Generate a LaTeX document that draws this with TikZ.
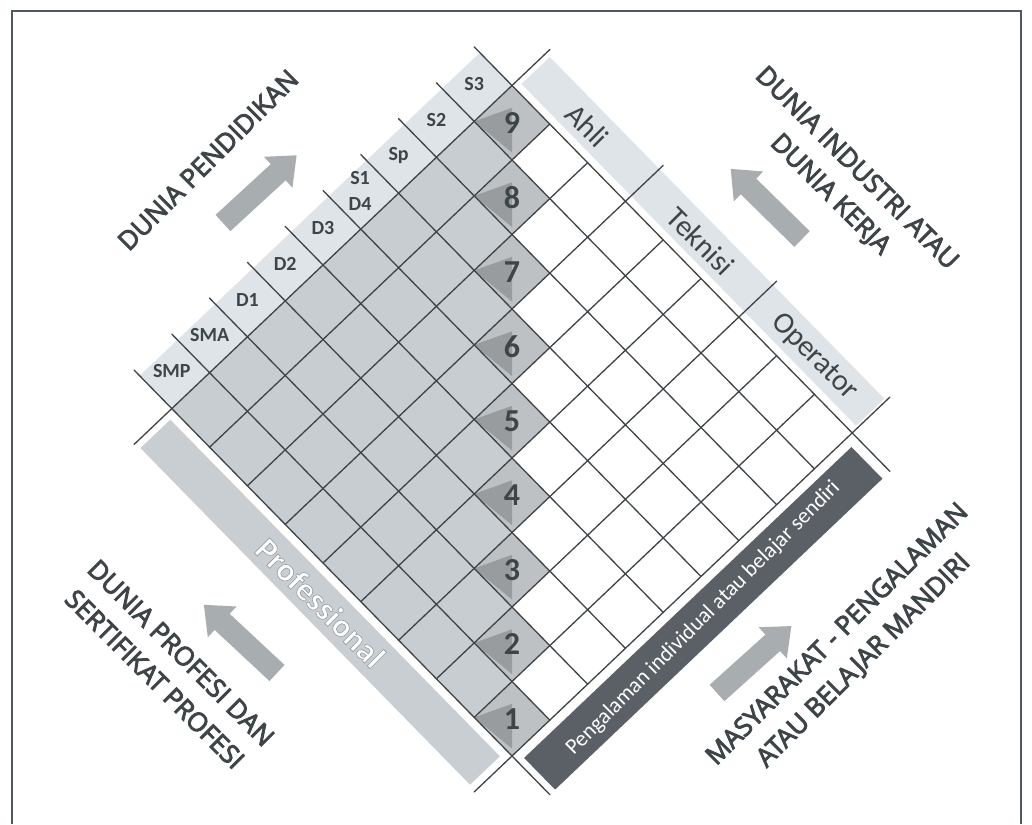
\documentclass[tikz,border=0pt]{standalone}
\usepackage{fontspec}
\setmainfont{Carlito}
\newfontfamily\bigfont{Open Sans}
\definecolor{framecol}{HTML}{4D5B61}
\definecolor{hdrfill}{HTML}{DFE4E9}
\definecolor{profill}{HTML}{C9CED2}
\definecolor{pengfill}{HTML}{5A6065}
\definecolor{cellgray}{HTML}{C8CDD1}
\definecolor{diagfill}{HTML}{BEC1C3}
\definecolor{wedgecol}{HTML}{999C9F}
\definecolor{gridcol}{HTML}{3D4347}
\definecolor{txtcol}{HTML}{3E4548}
\definecolor{arrowcol}{HTML}{A8ADB0}
\newcommand\blockarrow[3]{\fill[arrowcol,shift={(#1,#2)},rotate=#3] (0,11) -- (75,11) -- (75,21) -- (100,0) -- (75,-21) -- (75,-11) -- (0,-11) -- cycle;}
\newcommand\outlinedtext[1]{\special{pdf:literal direct 0.58 0.61 0.63 RG 0.6 w 2 Tr}#1\special{pdf:literal direct 0 Tr}}
\newcommand\heavytext[1]{\special{pdf:literal direct 0.243 0.271 0.282 RG 0.9 w 2 Tr}#1\special{pdf:literal direct 0 Tr}}
\tikzset{
  gridline/.style={draw=gridcol, line width=1.3pt, line cap=round},
  edulabel/.style={font=\bfseries\fontsize{20}{26}\selectfont, text=txtcol, inner sep=0pt, align=center},
  numlabel/.style={font=\bfseries\fontsize{32}{36}\selectfont, text=txtcol, inner sep=0pt},
  joblabel/.style={font=\fontsize{30}{34}\selectfont, text=txtcol, rotate=-45, inner sep=0pt},
  biglabel/.style={font=\bigfont\fontsize{26}{37}\selectfont, text=txtcol, align=center, inner sep=0pt},
  proflabel/.style={font=\bfseries\fontsize{33}{36}\selectfont, rotate=-45, inner sep=0pt, text=white},
  penglabel/.style={font=\fontsize{22}{26}\selectfont, text=white, rotate=45, inner sep=0pt},
}
\begin{document}
\begin{tikzpicture}[x=1pt,y=-1pt]
\useasboundingbox (0,0) rectangle (1032,824);
\fill[white] (0,0) rectangle (1032,824);
\draw[framecol, line width=2pt] (12,824) -- (12,11) -- (1021,11) -- (1021,824);

% arrows
\blockarrow{223}{223}{42.6}
\blockarrow{802}{239}{135.5}
\blockarrow{277}{673}{137}
\blockarrow{717}{693}{42}

\begin{scope}[shift={(512,756)}, x={(37.8pt,35.9pt)}, y={(-37.8pt,38.6pt)}]
  % bands
  \fill[hdrfill] (0,9) -- (9,9) -- (9,9.85) -- (0,9.85) -- cycle;
  \fill[hdrfill] (9.15,0.05) -- (9.9,0.05) -- (9.9,8.9) -- (9.15,8.9) -- cycle;
  \fill[profill] (-0.96,0.15) -- (-0.17,0.15) -- (-0.17,8.87) -- (-0.96,8.87) -- cycle;
  \fill[pengfill] (0.14,-0.18) -- (8.8,-0.18) -- (8.8,-1) -- (0.14,-1) -- cycle;
  % gray cells
  \fill[cellgray] (0,1) \foreach \k in {1,...,8}{ -- (\k,\k) -- (\k,\k+1)} -- (0,9) -- cycle;
  % diagonal cells
  \foreach \k in {0,...,8}{
    \fill[diagfill] (\k,\k) -- (\k+1,\k) -- (\k+1,\k+1) -- (\k,\k+1) -- cycle;
    \fill[wedgecol] (\k,\k+1) -- (\k+0.7,\k+0.7) -- (\k+0.1,\k+0.1) -- cycle;
  }
  % grid lines
  \draw[gridline] (0,-1) -- (0,10);
  \draw[gridline] (9,-1) -- (9,10);
  \foreach \k in {1,...,8} \draw[gridline] (\k,0) -- (\k,10);
  \draw[gridline] (-1,0) -- (10,0);
  \draw[gridline] (-1,9) -- (10,9);
  \foreach \k in {1,2,4,5,7,8} \draw[gridline] (0,\k) -- (9,\k);
  \foreach \k in {3,6} \draw[gridline] (0,\k) -- (10,\k);
  % level numbers
  \foreach \k in {1,...,9} \node[numlabel] (n\k) at (\k-0.5,\k-0.5) {\k};
  % education labels
  \node[edulabel] (smp) at (0.5,9.5) {SMP};
  \node[edulabel] (sma) at (1.5,9.5) {SMA};
  \node[edulabel] (d1) at (2.5,9.5) {D1};
  \node[edulabel] (d2) at (3.5,9.5) {D2};
  \node[edulabel] (d3) at (4.5,9.5) {D3};
  \node[edulabel] (s1d4) at (5.5,9.52) {S1\\D4};
  \node[edulabel] (sp) at (6.5,9.5) {Sp};
  \node[edulabel] (s2) at (7.5,9.5) {S2};
  \node[edulabel] (s3) at (8.5,9.5) {S3};
  % job labels
  \node[joblabel] (ahli) at (9.5,7.5) {Ahli};
  \node[joblabel] (teknisi) at (9.5,4.5) {Teknisi};
  \node[joblabel] (operator) at (9.5,1.5) {Operator};
  % band texts
  \node[proflabel] (prof) at (-0.57,4.5) {\outlinedtext{Professional}};
  \node[penglabel] (peng) at (4.47,-0.59) {Pengalaman individual atau belajar sendiri};
\end{scope}

% corner labels
\node[biglabel, rotate=45] (tl) at (208,160) {\heavytext{DUNIA PENDIDIKAN}};
\node[biglabel, rotate=-45] (tr) at (843,182) {\heavytext{DUNIA INDUSTRI ATAU}\\\heavytext{DUNIA KERJA}};
\node[biglabel, rotate=-45] (bl) at (168,666) {\heavytext{DUNIA PROFESI DAN}\\\heavytext{SERTIFIKAT PROFESI}};
\node[biglabel, rotate=45] (br) at (851,648) {\heavytext{MASYARAKAT - PENGALAMAN}\\\heavytext{ATAU BELAJAR MANDIRI}};
\end{tikzpicture}
\end{document}
